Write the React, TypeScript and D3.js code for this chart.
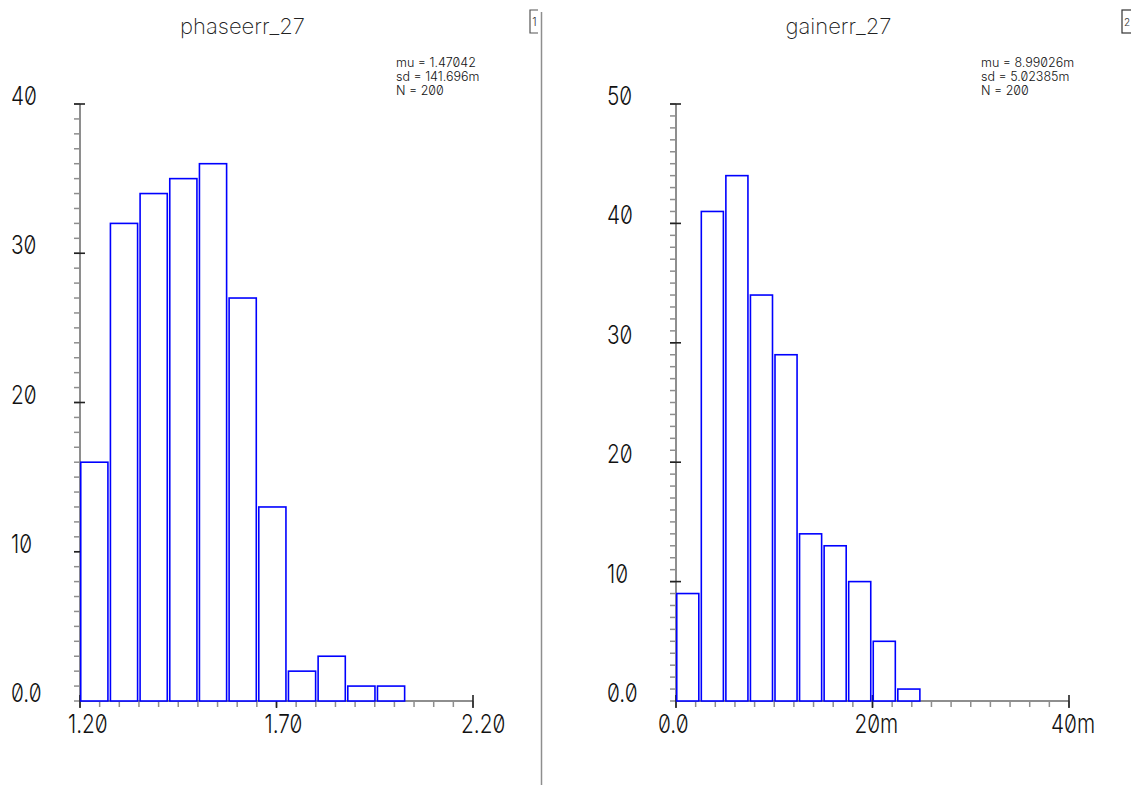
import React from "react";
import * as d3 from "d3";

// phaseerr_27 histogram
const phaseCounts = [16, 32, 34, 35, 36, 27, 13, 2, 3, 1, 1];
const phaseBinStart = 1.2;
const phaseBinWidth = 0.0755;
const phaseXTicks = [1.2, 1.7, 2.2];
const phaseXLabels = ["1.20", "1.70", "2.20"];
const phaseYTicks = [0, 10, 20, 30, 40];
const phaseYLabels = ["0.0", "10", "20", "30", "40"];
const phaseStats = ["mu = 1.47042", "sd = 141.696m", "N = 200"];

// gainerr_27 histogram
const gainCounts = [9, 41, 44, 34, 29, 14, 13, 10, 5, 1];
const gainBinStart = 0;
const gainBinWidth = 0.0025;
const gainXTicks = [0, 0.02, 0.04];
const gainXLabels = ["0.0", "20m", "40m"];
const gainYTicks = [0, 10, 20, 30, 40, 50];
const gainYLabels = ["0.0", "10", "20", "30", "40", "50"];
const gainStats = ["mu = 8.99026m", "sd = 5.02385m", "N = 200"];

const W = 1131;
const H = 785;
const BLUE = "#0000ff";
const GREY = "#8e8e8e";
const font = {
  fontFamily: "Inter, 'DejaVu Sans', sans-serif",
  fontWeight: 300,
  fontFeatureSettings: '"zero" 1',
};

type PanelProps = {
  title: string;
  counts: number[];
  binStart: number;
  binWidth: number;
  xTicks: number[];
  xLabels: string[];
  yTicks: number[];
  yLabels: string[];
  stats: string[];
  left: number;
  xLabelDx: number;
  statsDx: number;
};

const Panel = (p: PanelProps) => {
  const top = 104;
  const bottom = 701;
  const xDom = [p.xTicks[0], p.xTicks[p.xTicks.length - 1]];
  const yMax = p.yTicks[p.yTicks.length - 1];
  const x = d3.scaleLinear().domain(xDom).range([p.left, p.left + 393]);
  const y = d3.scaleLinear().domain([0, yMax]).range([bottom, top]);

  const xMinor = d3.range(0, 21).map((i) => xDom[0] + ((xDom[1] - xDom[0]) * i) / 20);
  const yMinor = d3.range(0, yMax + 1);

  const bins = p.counts.map((c, i) => ({
    x0: p.binStart + i * p.binWidth,
    x1: p.binStart + (i + 1) * p.binWidth,
    c,
  }));

  const midX = (x.range()[0] + x.range()[1]) / 2 - 34;

  return (
    <g>
      <text x={midX} y={34} textAnchor="middle" fontSize={22} fill="#222" style={{ ...font, fontWeight: 200 }}>
        {p.title}
      </text>
      {p.stats.map((s, i) => (
        <text key={s} x={p.left + p.statsDx} y={67 + i * 14} fontSize={12.5} fill="#111" style={font}>
          {s}
        </text>
      ))}

      {/* y axis */}
      <line x1={p.left} x2={p.left} y1={bottom} y2={top} stroke={GREY} strokeWidth={2} />
      {yMinor.map((v) => (
        <line key={"ym" + v} x1={p.left - 6} x2={p.left} y1={y(v)} y2={y(v)} stroke={GREY} strokeWidth={1.5} />
      ))}
      {p.yTicks.map((v, i) => (
        <g key={"yt" + v}>
          {v > 0 && (
            <line x1={p.left - 6} x2={p.left + 5} y1={y(v)} y2={y(v)} stroke="#222" strokeWidth={1.6} />
          )}
          <text
            transform={`translate(${p.left - 69},${y(v) + 1}) scale(0.8,1)`}
            fontSize={26}
            fill="#111"
            style={font}
          >
            {p.yLabels[i]}
          </text>
        </g>
      ))}

      {/* x axis */}
      <line x1={x.range()[0]} x2={x.range()[1]} y1={bottom} y2={bottom} stroke={GREY} strokeWidth={2} />
      {xMinor.map((v, i) => (
        <line key={"xm" + i} x1={x(v)} x2={x(v)} y1={bottom} y2={bottom + 6} stroke={GREY} strokeWidth={1.5} />
      ))}
      {p.xTicks.map((v, i) => (
        <g key={"xt" + i}>
          <line x1={x(v)} x2={x(v)} y1={bottom - 6} y2={bottom + 7} stroke="#222" strokeWidth={1.6} />
          <text
            transform={`translate(${x(v) + p.xLabelDx},${bottom + 32}) scale(0.8,1)`}
            fontSize={26}
            fill="#111"
            style={font}
          >
            {p.xLabels[i]}
          </text>
        </g>
      ))}

      {/* bars */}
      {bins.map((b, i) => (
        <rect
          key={"b" + i}
          x={x(b.x0) + 0.75}
          y={y(b.c)}
          width={x(b.x1) - x(b.x0) - 2.5}
          height={bottom - y(b.c)}
          fill="#fff"
          stroke={BLUE}
          strokeWidth={1.6}
        />
      ))}
    </g>
  );
};

export default function App() {
  return (
    <svg width={W} height={H} style={{ position: "absolute", left: 0, top: 0, background: "#fff" }}>
      <rect width={W} height={H} fill="#fff" />
      <Panel
        title="phaseerr_27"
        counts={phaseCounts}
        binStart={phaseBinStart}
        binWidth={phaseBinWidth}
        xTicks={phaseXTicks}
        xLabels={phaseXLabels}
        yTicks={phaseYTicks}
        yLabels={phaseYLabels}
        stats={phaseStats}
        left={80}
        xLabelDx={-12}
        statsDx={316}
      />
      <Panel
        title="gainerr_27"
        counts={gainCounts}
        binStart={gainBinStart}
        binWidth={gainBinWidth}
        xTicks={gainXTicks}
        xLabels={gainXLabels}
        yTicks={gainYTicks}
        yLabels={gainYLabels}
        stats={gainStats}
        left={676}
        xLabelDx={-18}
        statsDx={305}
      />
      {/* separator and panel index boxes */}
      <line x1={541.5} x2={541.5} y1={12} y2={H} stroke={GREY} strokeWidth={1.5} />
      <path d="M538,10 H530 V33 H538" fill="none" stroke="#555" strokeWidth={1.2} />
      <text x={534.5} y={26} textAnchor="middle" fontSize={11} fill="#333" style={font}>
        1
      </text>
      <rect x={1122} y={10} width={12} height={23} fill="none" stroke="#333" strokeWidth={1.2} />
      <text x={1124} y={26} fontSize={10} fill="#333" style={font}>
        2
      </text>
    </svg>
  );
}
